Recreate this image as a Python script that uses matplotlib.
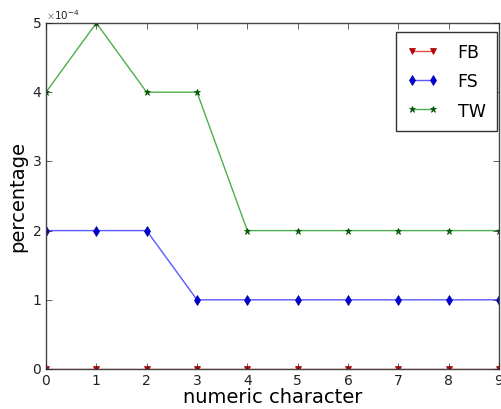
import matplotlib
matplotlib.use("Agg")
import matplotlib.pyplot as plt
from matplotlib.ticker import ScalarFormatter

x = [0, 1, 2, 3, 4, 5, 6, 7, 8, 9]
fb = [0, 0, 0, 0, 0, 0, 0, 0, 0, 0]
fs = [2e-4, 2e-4, 2e-4, 1e-4, 1e-4, 1e-4, 1e-4, 1e-4, 1e-4, 1e-4]
tw = [4e-4, 5e-4, 4e-4, 4e-4, 2e-4, 2e-4, 2e-4, 2e-4, 2e-4, 2e-4]
labels = ["FB", "FS", "TW"]

plt.style.use("classic")
plt.rcParams["font.family"] = ["DejaVu Sans"]
fig = plt.figure(figsize=(5.02, 4.10), dpi=100, facecolor="white")
ax = fig.add_axes([46/502, 40/410, (499-46)/502, (370-24)/410])
ax.set_facecolor("white")

ax.plot(x, fb, color=(0.85, 0, 0, 0.7), marker="v", markersize=4,
        markerfacecolor="#cc0000", markeredgecolor="#990000", lw=1, label=labels[0])
ax.plot(x, fs, color=(0, 0, 1, 0.65), marker="d", markersize=5,
        markerfacecolor="#0000dd", markeredgecolor="#000099", lw=1, label=labels[1])
ax.plot(x, tw, color=(0, 0.55, 0, 0.7), marker="*", markersize=5,
        markerfacecolor="#006400", markeredgecolor="#004d00", lw=1, label=labels[2])

ax.set_xlim(0, 9)
ax.set_ylim(0, 5e-4)
ax.set_xticks(range(10))
fmt = ScalarFormatter(useMathText=True)
fmt.set_powerlimits((-3, 3))
ax.yaxis.set_major_formatter(fmt)
ax.yaxis.get_offset_text().set_fontsize(7.5)
ax.yaxis.get_offset_text().set_color("#555555")
ax.tick_params(labelsize=10, direction="in", top=True, right=True, colors="#222222",
               pad=3, length=4)
for s in ax.spines.values():
    s.set_color("#444444")
ax.set_xlabel("numeric character", fontsize=14, labelpad=0)
ax.set_ylabel("percentage", fontsize=14, labelpad=3)
leg = ax.legend(loc="upper right", fontsize=12.5, frameon=True, fancybox=False,
                numpoints=2, handlelength=1.8, borderpad=0.65, labelspacing=0.65,
                handletextpad=1.1, borderaxespad=0, bbox_to_anchor=(0.995, 0.975))
leg.get_frame().set_edgecolor("#333333")
leg.get_frame().set_linewidth(1.0)
fig.savefig("out.png", dpi=100, facecolor="white")
